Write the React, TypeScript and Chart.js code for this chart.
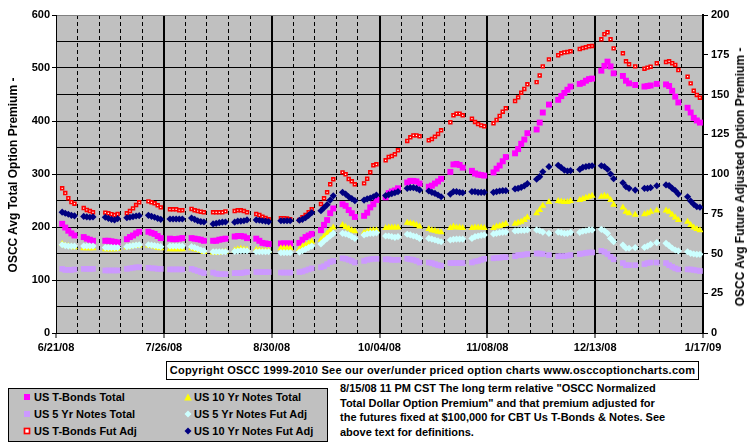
import React, { useEffect, useRef } from 'react';
import { Chart, registerables } from 'chart.js';

Chart.register(...registerables);

// x tick labels (every 35 days starting 6/21/08)
const xTickLabels = ['6/21/08', '7/26/08', '8/30/08', '10/04/08', '11/08/08', '12/13/08', '1/17/09'];
const xTickDays = [0, 35, 70, 105, 140, 175, 210];

// trading days, counted in days after 6/21/08 (holidays left out)
const tradingDays = [
  2, 3, 4, 5, 6,
  9, 10, 11, 12,
  16, 17, 18, 19, 20,
  23, 24, 25, 26, 27,
  30, 31, 32, 33, 34,
  37, 38, 39, 40, 41,
  44, 45, 46, 47, 48,
  51, 52, 53, 54, 55,
  58, 59, 60, 61, 62,
  65, 66, 67, 68, 69,
  73, 74, 75, 76,
  79, 80, 81, 82, 83,
  86, 87, 88, 89, 90,
  93, 94, 95, 96, 97,
  100, 101, 102, 103, 104,
  107, 108, 109, 110, 111,
  114, 115, 116, 117, 118,
  121, 122, 123, 124, 125,
  128, 129, 130, 131, 132,
  135, 136, 137, 138, 139,
  142, 143, 144, 145, 146,
  149, 150, 151, 152, 153,
  156, 157, 158, 160,
  163, 164, 165, 166, 167,
  170, 171, 172, 173, 174,
  177, 178, 179, 180, 181,
  184, 185, 186, 188,
  191, 192, 193, 195,
  198, 199, 200, 201, 202,
  205, 206, 207, 208, 209,
];

// Left axis series (OSCC Avg Total Option Premium)
const usTBondsTotal = [
  206, 199, 193, 188, 184,
  181, 178, 176, 174,
  174, 174, 173, 172, 171,
  177, 181, 184, 188, 191,
  191, 189, 187, 183, 179,
  178, 177, 177, 178, 179,
  179, 178, 177, 176, 174,
  174, 174, 176, 177, 178,
  182, 183, 183, 182, 179,
  178, 174, 170, 169, 168,
  169, 169, 169, 169,
  170, 176, 181, 184, 187,
  194, 204, 213, 226, 235,
  243, 240, 232, 226, 219,
  221, 227, 237, 243, 251,
  256, 264, 267, 269, 273,
  284, 287, 287, 286, 282,
  276, 278, 282, 286, 291,
  304, 318, 319, 317, 312,
  306, 301, 299, 298, 297,
  303, 310, 316, 324, 332,
  339, 347, 357, 365, 377,
  384, 397, 416, 431,
  440, 447, 453, 459, 465,
  470, 472, 476, 479, 480,
  495, 504, 512, 503, 490,
  485, 476, 471, 468,
  465, 466, 467, 470,
  469, 466, 457, 446, 435,
  425, 416, 406, 401, 397,
];

const us10YrTotal = [
  168, 165, 164, 163, 162,
  160, 160, 160, 160,
  158, 158, 158, 158, 159,
  162, 163, 164, 165, 165,
  165, 164, 163, 161, 160,
  158, 158, 158, 158, 158,
  160, 158, 157, 155, 153,
  152, 152, 152, 153, 154,
  156, 158, 159, 158, 157,
  157, 156, 155, 155, 155,
  160, 160, 160, 160,
  158, 163, 166, 169, 172,
  176, 182, 188, 194, 199,
  204, 200, 197, 194, 192,
  189, 191, 193, 194, 194,
  198, 199, 199, 199, 199,
  208, 207, 206, 204, 201,
  196, 194, 193, 191, 190,
  198, 201, 199, 199, 198,
  198, 199, 199, 199, 198,
  198, 201, 202, 204, 206,
  206, 208, 210, 213, 218,
  226, 232, 240, 247,
  249, 248, 247, 247, 249,
  251, 253, 255, 257, 259,
  257, 259, 257, 251, 242,
  237, 229, 226, 223,
  224, 226, 229, 231,
  231, 229, 223, 218, 213,
  210, 204, 199, 196, 194,
];

const us5YrTotal = [
  121, 119, 119, 119, 120,
  121, 121, 121, 121,
  118, 118, 118, 118, 118,
  121, 122, 123, 124, 124,
  123, 122, 122, 121, 121,
  120, 120, 120, 120, 120,
  121, 119, 117, 115, 113,
  114, 112, 111, 111, 111,
  113, 113, 113, 114, 115,
  115, 115, 115, 115, 115,
  114, 114, 114, 114,
  115, 116, 118, 120, 122,
  124, 126, 130, 134, 136,
  141, 140, 138, 136, 133,
  136, 138, 139, 140, 140,
  139, 139, 138, 138, 138,
  140, 139, 138, 136, 133,
  133, 132, 130, 128, 127,
  132, 132, 132, 132, 132,
  133, 135, 136, 138, 140,
  141, 142, 142, 143, 143,
  145, 147, 147, 148, 149,
  150, 150, 149, 147,
  145, 145, 145, 146, 147,
  149, 150, 151, 152, 152,
  155, 153, 149, 144, 139,
  132, 128, 128, 128,
  130, 132, 133, 133,
  132, 128, 125, 122, 120,
  120, 120, 119, 118, 117,
];

// Right axis series (OSCC Avg Future Adjusted Option Premium)
const us5YrFutAdj = [
  55.5, 55, 54.7, 54.7, 54.7,
  54.7, 54.7, 54.7, 54.7,
  53.7, 53.7, 53.7, 53.7, 53.7,
  54.3, 54.7, 55, 55.3, 55.5,
  55.5, 55.3, 55, 54.7, 54.3,
  54.7, 54.7, 54.7, 54.7, 54.7,
  54.3, 53.7, 53, 52.2, 51.6,
  51.1, 51.1, 51.1, 51.1, 51.1,
  51.3, 51.5, 51.8, 51.8, 51.6,
  51.1, 51.1, 51.1, 51.1, 51.1,
  50.5, 50.5, 50.5, 50.5,
  50.9, 51.8, 52.7, 53.7, 54.7,
  56, 57.9, 59.5, 61, 62.7,
  62.7, 62.3, 61.7, 60.6, 59.5,
  61.7, 62.3, 62.7, 62.7, 63,
  61, 61, 60.6, 60.2, 60.6,
  62.1, 61.7, 61, 60.6, 59.5,
  59.5, 59.1, 58.5, 57.9, 57.4,
  58.5, 58.9, 59.1, 59.1, 59.1,
  59.5, 60.6, 61, 61.4, 61.7,
  62.3, 62.7, 63.1, 63.3, 63.5,
  64.2, 64.3, 64.6, 64.6, 64.8,
  64.8, 64.3, 63.5, 62.7,
  63.5, 63.1, 62.7, 62.7, 63.3,
  63.3, 64, 64.3, 64.8, 64.8,
  65.2, 64.3, 62.7, 59.5, 57.4,
  55.3, 53.3, 53.3, 53.7,
  53.9, 54.7, 55.8, 56.8,
  56.4, 54.9, 53.3, 52.2, 51.6,
  51.1, 50.1, 49.7, 49.5, 49.5,
];

const usTBondsFutAdj = [
  91, 88, 84.8, 82.3, 81.3,
  78.6, 77.4, 76.7, 75.9,
  75.7, 75.3, 74.7, 74.2, 74.8,
  75.3, 76.7, 78.4, 80.5, 82.2,
  82.8, 82.2, 81.6, 80.3, 79,
  77.8, 77.8, 77.8, 77.2, 77.2,
  78, 77.2, 76.7, 76.3, 75.9,
  75.9, 75.9, 75.9, 75.9, 76.5,
  76.7, 77.2, 77.2, 76.7, 75.9,
  74.8, 74.2, 73.1, 72.3, 71.5,
  72.2, 72.2, 72, 71.5,
  71.1, 72.8, 74.2, 75.9, 77.8,
  81.1, 84.7, 88.5, 93.5, 96.7,
  101, 99.8, 96.8, 95.4, 93.5,
  94.1, 97, 101.1, 105.5, 106.1,
  108.6, 110.7, 111.3, 112.4, 114.9,
  120.8, 123.1, 124.3, 124.3, 123.7,
  121.2, 122, 123.5, 125.2, 127.5,
  132.5, 136.9, 137.9, 137.9, 136.9,
  134.8, 132.7, 131.4, 130.6, 130,
  131.9, 134, 136.5, 139.2, 141.3,
  145.9, 148.2, 151.1, 153.5, 156.4,
  157.8, 162, 167.7, 172.1,
  174.7, 175.9, 176.5, 176.7, 177.2,
  178.6, 179.2, 179.7, 180.3, 180.5,
  184.7, 187.9, 189.1, 184.7, 179,
  175.9, 170.9, 169, 167.7,
  166.2, 166.9, 167.5, 169.6,
  170.4, 170.9, 169.7, 168.6, 165.4,
  161.2, 157, 152.4, 149.7, 148,
];

const us10YrFutAdj = [
  76, 75.3, 74.7, 74, 73.7,
  73.3, 73, 72.8, 73,
  72.8, 72.1, 71.5, 71.1, 71.9,
  72.5, 72.8, 73.2, 73.6, 73.8,
  74, 73.4, 72.8, 72.1, 71.5,
  71.7, 71.7, 71.7, 71.7, 71.7,
  72.3, 71.5, 70.6, 70, 69.8,
  68.6, 69, 69.4, 69.7, 69.8,
  69.7, 70.3, 70.4, 70.6, 71.1,
  71.1, 70.9, 70.6, 70.4, 70,
  70.6, 70.6, 70.6, 70.6,
  70.9, 71.5, 72.5, 74, 75.7,
  76.9, 78.8, 80.7, 83.6, 86.3,
  88.5, 87.4, 85.7, 84.5, 83.2,
  83.6, 84.3, 84.9, 85.7, 86.8,
  86.4, 87, 87.7, 88.2, 88.9,
  91, 91.4, 91.4, 91, 90,
  89.3, 88.5, 87.8, 86.8, 85.7,
  87.4, 88.9, 88.9, 88.5, 88.2,
  88.9, 88.9, 88.5, 88.5, 88.5,
  88.5, 88.9, 89.3, 89.5, 89.5,
  90.6, 91, 91.6, 92.5, 93.9,
  96.7, 98.3, 101.4, 104.6,
  105.5, 104, 102.5, 101.9, 102.1,
  102.9, 104.2, 104.6, 105, 105.2,
  105.2, 104.6, 103, 100, 97,
  94.5, 92, 91, 89.9,
  91, 91, 91.4, 92.6,
  93.1, 92.7, 91, 89.5, 87.4,
  85.7, 83, 80.9, 79.4, 79.1,
];

const FONT = '"Liberation Sans", Arial, Helvetica, sans-serif';
const SILVER = '#C0C0C0';

type SeriesDef = {
  label: string;
  values: number[];
  axis: 'y' | 'y1';
  style: 'rect' | 'triangle' | 'rectRot';
  fill: string;
  stroke: string;
  radius: number;
  borderWidth: number;
};

// Excel series order; later series drawn on top
const series: SeriesDef[] = [
  { label: 'US T-Bonds Total', values: usTBondsTotal, axis: 'y', style: 'rect', fill: '#FF00FF', stroke: '#FF00FF', radius: 4.2, borderWidth: 0 },
  { label: 'US 10 Yr Notes Total', values: us10YrTotal, axis: 'y', style: 'triangle', fill: '#FFFF00', stroke: '#FFFF00', radius: 4, borderWidth: 0 },
  { label: 'US 5 Yr Notes Total', values: us5YrTotal, axis: 'y', style: 'rect', fill: '#CC99FF', stroke: '#CC99FF', radius: 4, borderWidth: 0 },
  { label: 'US 5 Yr Notes Fut Adj', values: us5YrFutAdj, axis: 'y1', style: 'rectRot', fill: '#CCFFFF', stroke: '#CCFFFF', radius: 3.6, borderWidth: 0 },
  { label: 'US T-Bonds Fut Adj', values: usTBondsFutAdj, axis: 'y1', style: 'rect', fill: '#FFFFFF', stroke: '#FF0000', radius: 2, borderWidth: 1.6 },
  { label: 'US 10 Yr Notes Fut Adj', values: us10YrFutAdj, axis: 'y1', style: 'rectRot', fill: '#000080', stroke: '#000080', radius: 3.6, borderWidth: 0 },
];

const plotBackground = {
  id: 'plotBackground',
  beforeDraw(chart: any) {
    const { ctx, chartArea } = chart;
    if (!chartArea) return;
    ctx.save();
    ctx.fillStyle = SILVER;
    ctx.fillRect(chartArea.left, chartArea.top, chartArea.right - chartArea.left, chartArea.bottom - chartArea.top);
    ctx.restore();
  },
};

const tickFont = { family: FONT, size: 11, weight: 'bold' as const };

function ChartCanvas() {
  const ref = useRef<HTMLCanvasElement | null>(null);
  useEffect(() => {
    if (!ref.current) return;
    const datasets = series.map((s, i) => ({
      label: s.label,
      data: tradingDays.map((d, j) => ({ x: d, y: s.values[j] })),
      yAxisID: s.axis,
      xAxisID: 'x',
      showLine: false,
      pointStyle: s.style,
      pointRadius: s.radius,
      pointHoverRadius: s.radius,
      pointBackgroundColor: s.fill,
      pointBorderColor: s.stroke,
      pointBorderWidth: s.borderWidth,
      order: series.length - 1 - i,
    }));
    const chart = new Chart(ref.current, {
      type: 'scatter',
      data: { datasets },
      plugins: [plotBackground],
      options: {
        animation: false,
        responsive: false,
        events: [],
        layout: { padding: { top: 15, left: 0, right: 0, bottom: 0 } },
        plugins: { legend: { display: false }, tooltip: { enabled: false } },
        scales: {
          x: {
            type: 'linear',
            position: 'bottom',
            min: 0,
            max: 210,
            afterBuildTicks: (scale: any) => {
              scale.ticks = xTickDays.map((v) => ({ value: v }));
            },
            afterFit: (scale: any) => {
              scale.height = 32;
            },
            ticks: {
              autoSkip: false,
              maxRotation: 0,
              color: '#000',
              font: tickFont,
              padding: 3,
              callback: (v: any) => {
                const idx = xTickDays.indexOf(Number(v));
                return idx >= 0 ? xTickLabels[idx] : '';
              },
            },
            grid: {
              color: (ctx: any) => (ctx.tick && (ctx.tick.value === 0 || ctx.tick.value === 210) ? 'rgba(0,0,0,0)' : '#000'),
              lineWidth: 2,
              drawTicks: true,
              tickLength: 5,
              tickColor: '#000',
              tickWidth: 1,
            },
            border: { display: true, color: '#000', width: 1 },
          },
          xWeeks: {
            type: 'linear',
            position: 'bottom',
            min: 0,
            max: 210,
            afterFit: (scale: any) => {
              scale.height = 0;
            },
            ticks: { display: false, stepSize: 7, autoSkip: false, maxTicksLimit: 40 },
            grid: {
              color: (ctx: any) => (ctx.tick && ctx.tick.value % 35 === 0 ? 'rgba(0,0,0,0)' : '#000'),
              lineWidth: 1,
              drawTicks: false,
            },
            border: { display: false, dash: [4, 3] },
          },
          y: {
            type: 'linear',
            position: 'left',
            min: 0,
            max: 600,
            afterFit: (scale: any) => {
              scale.width = 56;
            },
            ticks: {
              stepSize: 50,
              autoSkip: false,
              color: '#000',
              font: tickFont,
              padding: 2,
              callback: (v: any) => (Number(v) % 100 === 0 ? String(v) : ''),
            },
            grid: {
              color: (ctx: any) => (ctx.tick && ctx.tick.value === 600 ? '#808080' : '#000'),
              lineWidth: 1,
              drawTicks: true,
              tickLength: 4,
              tickColor: (ctx: any) => (ctx.tick && ctx.tick.value % 100 === 0 ? '#000' : 'rgba(0,0,0,0)'),
            },
            border: { display: true, color: '#000', width: 1 },
          },
          y1: {
            type: 'linear',
            position: 'right',
            min: 0,
            max: 200,
            afterFit: (scale: any) => {
              scale.width = 52;
            },
            ticks: {
              stepSize: 25,
              autoSkip: false,
              color: '#000',
              font: tickFont,
              padding: 3,
            },
            grid: {
              drawOnChartArea: false,
              drawTicks: true,
              tickLength: 5,
              tickColor: '#000',
              tickWidth: 1,
            },
            border: { display: true, color: '#000', width: 2 },
          },
        },
      } as any,
    });
    return () => chart.destroy();
  }, []);
  return <canvas ref={ref} width={755} height={365} style={{ position: 'absolute', left: 0, top: 0, width: 755, height: 365 }} />;
}

const textStyle: React.CSSProperties = {
  fontFamily: FONT,
  fontWeight: 'bold',
  fontSize: 11,
  color: '#000',
  whiteSpace: 'nowrap',
  position: 'absolute',
};

function LegendMarker({ s, cx, cy }: { s: SeriesDef; cx: number; cy: number }) {
  let shape: React.ReactNode = null;
  if (s.style === 'rect' && s.borderWidth > 0) {
    shape = <rect x={1.5} y={1.5} width={5} height={5} fill={s.fill} stroke={s.stroke} strokeWidth={1.7} />;
  } else if (s.style === 'rect') {
    shape = <rect x={1} y={1} width={6} height={6} fill={s.fill} />;
  } else if (s.style === 'triangle') {
    shape = <polygon points="4,0.5 7.8,7.5 0.2,7.5" fill={s.fill} />;
  } else {
    shape = <polygon points="4,0.5 7.5,4 4,7.5 0.5,4" fill={s.fill} />;
  }
  return (
    <svg width={8} height={8} style={{ position: 'absolute', left: cx - 4, top: cy - 4 }}>
      {shape}
    </svg>
  );
}

const legendLayout: { idx: number; col: number; row: number }[] = [
  { idx: 0, col: 0, row: 0 },
  { idx: 2, col: 0, row: 1 },
  { idx: 4, col: 0, row: 2 },
  { idx: 1, col: 1, row: 0 },
  { idx: 3, col: 1, row: 1 },
  { idx: 5, col: 1, row: 2 },
];

const descriptionLines = [
  '8/15/08 11 PM CST The long term relative "OSCC Normalized',
  'Total Dollar Option Premium" and that premium adjusted for',
  'the futures fixed at $100,000 for CBT Us T-Bonds & Notes. See',
  'above text for definitions.',
];

export default function App() {
  const colMarkerX = [27, 188];
  const colTextX = [34, 194];
  const rowY = [397, 414, 431];
  return (
    <div style={{ position: 'fixed', left: 0, top: 0, width: 755, height: 446, background: '#fff', overflow: 'hidden' }}>
      <ChartCanvas />
      <div
        style={{
          ...textStyle,
          fontSize: 12,
          left: 13,
          top: 175,
          transform: 'translate(-50%, -50%) rotate(-90deg)',
        }}
      >
        OSCC Avg Total Option Premium -
      </div>
      <div
        style={{
          ...textStyle,
          fontSize: 12,
          left: 740,
          top: 177,
          transform: 'translate(-50%, -50%) rotate(-90deg)',
        }}
      >
        OSCC Avg Future Adjusted Option Premium -
      </div>
      <div
        style={{
          position: 'absolute',
          left: 166,
          top: 361,
          width: 531,
          height: 17,
          border: '1px solid #000',
          background: '#fff',
        }}
      >
        <div style={{ ...textStyle, left: 0, right: 0, top: 0, lineHeight: '17px', textAlign: 'center', letterSpacing: '0.25px' }}>
          Copyright OSCC 1999-2010 See our over/under priced option charts www.osccoptioncharts.com
        </div>
      </div>
      <div
        style={{
          position: 'absolute',
          left: 8,
          top: 388,
          width: 318,
          height: 52,
          border: '1px solid #000',
          background: SILVER,
        }}
      />
      {legendLayout.map(({ idx, col, row }) => (
        <React.Fragment key={idx}>
          <LegendMarker s={series[idx]} cx={colMarkerX[col]} cy={rowY[row]} />
          <div style={{ ...textStyle, left: colTextX[col], top: rowY[row] - 7, lineHeight: '14px' }}>{series[idx].label}</div>
        </React.Fragment>
      ))}
      {descriptionLines.map((line, i) => (
        <div key={i} style={{ ...textStyle, left: 340, top: 381 + i * 14.7, lineHeight: '14px' }}>
          {line}
        </div>
      ))}
    </div>
  );
}
